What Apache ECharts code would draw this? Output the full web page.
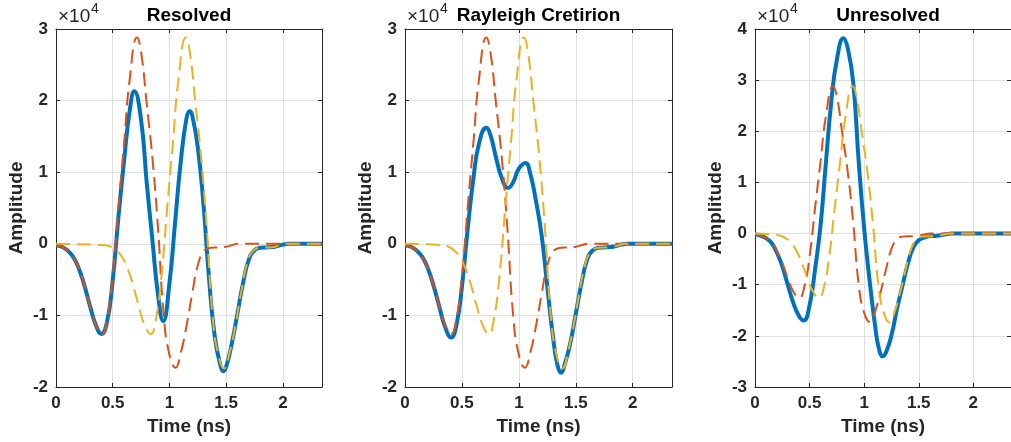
<!DOCTYPE html>
<html>
<head>
<meta charset="utf-8">
<script src="https://cdn.jsdelivr.net/npm/echarts@6/dist/echarts.min.js"></script>
<style>
html,body{margin:0;padding:0;background:#fff;}
#c{width:1011px;height:442px;}
</style>
</head>
<body>
<div id="c"></div>
<script>
// ---- data: [time (ns), amplitude in units of 1e4] ----

// first (early) wavelet, identical in all three panels
const pulseEarly = [[0,-0.02],[0.05,-0.04],[0.1,-0.09],[0.15,-0.18],[0.2,-0.34],[0.25,-0.58],[0.3,-0.87],[0.35,-1.13],[0.406,-1.26],[0.45,-1.06],[0.5,-0.45],[0.55,0.50],[0.6,1.40],[0.65,2.30],[0.715,2.88],[0.75,2.68],[0.8,1.95],[0.85,1.20],[0.9,0.20],[0.95,-1.00],[1.0,-1.55],[1.053,-1.73],[1.1,-1.52],[1.15,-1.15],[1.2,-0.70],[1.25,-0.30],[1.3,-0.11],[1.35,-0.06],[1.4,-0.05],[1.45,-0.05],[1.5,-0.04],[1.55,-0.02],[1.6,0],[2.35,0]];

// second (delayed) wavelet in each panel
const pulseLateResolved = [[0,0],[0.43,-0.02],[0.48,-0.04],[0.53,-0.09],[0.58,-0.18],[0.63,-0.34],[0.68,-0.58],[0.73,-0.87],[0.78,-1.13],[0.836,-1.26],[0.88,-1.06],[0.93,-0.45],[0.98,0.50],[1.03,1.40],[1.08,2.30],[1.145,2.88],[1.18,2.68],[1.23,1.95],[1.28,1.20],[1.33,0.20],[1.38,-1.00],[1.43,-1.55],[1.483,-1.74],[1.53,-1.52],[1.58,-1.15],[1.63,-0.70],[1.68,-0.30],[1.73,-0.11],[1.78,-0.06],[1.83,-0.05],[1.88,-0.05],[1.93,-0.04],[1.98,-0.02],[2.03,0],[2.35,0]];
const pulseLateRayleigh = [[0,0],[0.33,-0.02],[0.38,-0.04],[0.43,-0.09],[0.48,-0.18],[0.53,-0.34],[0.58,-0.58],[0.63,-0.87],[0.68,-1.13],[0.736,-1.26],[0.78,-1.06],[0.83,-0.45],[0.88,0.50],[0.93,1.40],[0.98,2.30],[1.045,2.88],[1.08,2.68],[1.13,1.95],[1.18,1.20],[1.23,0.20],[1.28,-1.00],[1.33,-1.55],[1.383,-1.74],[1.43,-1.52],[1.48,-1.15],[1.53,-0.70],[1.58,-0.30],[1.63,-0.11],[1.68,-0.06],[1.73,-0.05],[1.78,-0.05],[1.83,-0.04],[1.88,-0.02],[1.93,0],[2.35,0]];
const pulseLateUnresolved = [[0,0],[0.18,-0.02],[0.23,-0.04],[0.28,-0.09],[0.33,-0.18],[0.38,-0.34],[0.43,-0.58],[0.48,-0.87],[0.53,-1.13],[0.586,-1.26],[0.63,-1.06],[0.68,-0.45],[0.73,0.50],[0.78,1.40],[0.83,2.30],[0.895,2.88],[0.93,2.68],[0.98,1.95],[1.03,1.20],[1.08,0.20],[1.13,-1.00],[1.18,-1.55],[1.233,-1.74],[1.28,-1.52],[1.33,-1.15],[1.38,-0.70],[1.43,-0.30],[1.48,-0.11],[1.53,-0.06],[1.58,-0.05],[1.63,-0.05],[1.68,-0.04],[1.73,-0.02],[1.78,0],[2.35,0]];

// summed trace in each panel
const sumResolved = [[0,-0.02],[0.05,-0.04],[0.1,-0.09],[0.15,-0.18],[0.2,-0.34],[0.25,-0.58],[0.3,-0.87],[0.35,-1.13],[0.4,-1.26],[0.45,-1.09],[0.5,-0.51],[0.55,0.37],[0.6,1.16],[0.65,1.86],[0.69,2.13],[0.75,1.73],[0.8,0.85],[0.85,0.05],[0.9,-0.72],[0.945,-1.08],[1.0,-0.55],[1.05,0.30],[1.1,1.15],[1.15,1.75],[1.178,1.85],[1.2,1.80],[1.25,1.35],[1.3,0.55],[1.35,-0.50],[1.4,-1.30],[1.45,-1.70],[1.475,-1.78],[1.5,-1.72],[1.55,-1.39],[1.6,-0.97],[1.65,-0.54],[1.7,-0.22],[1.75,-0.09],[1.8,-0.056],[1.85,-0.05],[1.9,-0.046],[1.95,-0.032],[2.0,-0.012],[2.05,0],[2.35,0]];
const sumRayleigh = [[0,-0.02],[0.05,-0.04],[0.1,-0.09],[0.15,-0.18],[0.2,-0.34],[0.25,-0.58],[0.3,-0.87],[0.35,-1.15],[0.405,-1.31],[0.45,-1.15],[0.5,-0.60],[0.55,0.20],[0.6,0.90],[0.65,1.40],[0.714,1.62],[0.75,1.52],[0.8,1.20],[0.85,0.92],[0.905,0.78],[0.95,0.86],[1.0,1.05],[1.058,1.13],[1.1,0.98],[1.15,0.60],[1.2,0.12],[1.25,-0.60],[1.3,-1.30],[1.34,-1.70],[1.372,-1.80],[1.4,-1.70],[1.45,-1.40],[1.5,-0.98],[1.55,-0.55],[1.6,-0.22],[1.65,-0.09],[1.7,-0.056],[1.75,-0.05],[1.8,-0.046],[1.85,-0.032],[1.9,-0.012],[1.95,0],[2.35,0]];
const sumUnresolved = [[0,-0.02],[0.05,-0.04],[0.1,-0.09],[0.15,-0.18],[0.2,-0.37],[0.25,-0.64],[0.3,-1.00],[0.35,-1.35],[0.4,-1.60],[0.445,-1.70],[0.5,-1.40],[0.55,-0.70],[0.6,0.15],[0.65,1.40],[0.7,2.60],[0.75,3.40],[0.81,3.82],[0.85,3.62],[0.9,2.95],[0.95,1.40],[1.0,0.10],[1.05,-0.92],[1.1,-1.80],[1.135,-2.25],[1.17,-2.40],[1.2,-2.32],[1.25,-1.99],[1.3,-1.48],[1.35,-1.03],[1.4,-0.59],[1.45,-0.27],[1.5,-0.13],[1.55,-0.08],[1.6,-0.05],[1.65,-0.046],[1.7,-0.032],[1.75,-0.012],[1.8,0],[2.35,0]];

const panelTitles = ['Resolved', 'Rayleigh Cretirion', 'Unresolved'];
const yRanges = [[-2, 3], [-2, 3], [-3, 4]];
const xRange = [0, 2.345];
const xTickStep = 0.5;
const yTickStep = 1;
const xAxisName = 'Time (ns)';
const yAxisName = 'Amplitude';
const exponentText = '\u00d710';
const exponentPower = '4';

// ---- layout / style ----
const FONT = '"Liberation Sans", Arial, Helvetica, sans-serif';
const AX = '#262626';
const GRIDC = '#dfdfdf';
const panels = [
  {left: 56, top: 29, width: 266, height: 358},
  {left: 405, top: 29, width: 267, height: 358},
  {left: 755, top: 29, width: 266, height: 358}
];
const sums = [sumResolved, sumRayleigh, sumUnresolved];
const lates = [pulseLateResolved, pulseLateRayleigh, pulseLateUnresolved];

const grid = panels.map(p => ({left: p.left, top: p.top, width: p.width, height: p.height, containLabel: false}));
const xAxis = [];
const yAxis = [];
panels.forEach((p, i) => {
  xAxis.push({
    type: 'value', gridIndex: i, min: xRange[0], max: xRange[1], interval: xTickStep,
    name: xAxisName, nameLocation: 'middle', nameGap: 30,
    nameTextStyle: {fontFamily: FONT, fontWeight: 'bold', fontSize: 19, color: AX},
    axisLine: {show: true, onZero: false, lineStyle: {color: AX, width: 1}},
    axisTick: {show: true, inside: true, length: 4, lineStyle: {color: AX}},
    axisLabel: {show: true, margin: 8, fontFamily: FONT, fontWeight: 'bold', fontSize: 17, color: AX, showMaxLabel: false,
      formatter: v => (Math.abs(v / xTickStep - Math.round(v / xTickStep)) < 1e-6 ? String(Math.round(v * 10) / 10) : '')},
    splitLine: {show: true, lineStyle: {color: GRIDC, width: 1}}
  });
  yAxis.push({
    type: 'value', gridIndex: i, min: yRanges[i][0], max: yRanges[i][1], interval: yTickStep,
    name: yAxisName, nameLocation: 'middle', nameGap: 30, nameRotate: 90,
    nameTextStyle: {fontFamily: FONT, fontWeight: 'bold', fontSize: 19, color: AX},
    axisLine: {show: true, onZero: false, lineStyle: {color: AX, width: 1}},
    axisTick: {show: true, inside: true, length: 4, lineStyle: {color: AX}},
    axisLabel: {show: true, margin: 8, fontFamily: FONT, fontWeight: 'bold', fontSize: 17, color: AX},
    splitLine: {show: true, lineStyle: {color: GRIDC, width: 1}}
  });
});
panels.forEach((p, i) => {
  xAxis.push({
    type: 'value', gridIndex: i, position: 'top', min: xRange[0], max: xRange[1], interval: xTickStep,
    axisLine: {show: true, onZero: false, lineStyle: {color: AX, width: 1}},
    axisTick: {show: true, inside: true, length: 4, lineStyle: {color: AX}},
    axisLabel: {show: false}, splitLine: {show: false}
  });
  yAxis.push({
    type: 'value', gridIndex: i, position: 'right', min: yRanges[i][0], max: yRanges[i][1], interval: yTickStep,
    axisLine: {show: true, onZero: false, lineStyle: {color: AX, width: 1}},
    axisTick: {show: true, inside: true, length: 4, lineStyle: {color: AX}},
    axisLabel: {show: false}, splitLine: {show: false}
  });
});

const series = [];
panels.forEach((p, i) => {
  series.push({
    type: 'line', xAxisIndex: i, yAxisIndex: i, showSymbol: false, smooth: 0.5, clip: true, z: 2,
    data: sums[i],
    lineStyle: {color: '#0072BD', width: 4}
  });
  series.push({
    type: 'line', xAxisIndex: i, yAxisIndex: i, showSymbol: false, smooth: 0.5, clip: true, z: 3,
    data: pulseEarly,
    lineStyle: {color: '#D95319', width: 2, type: [14, 7]}
  });
  series.push({
    type: 'line', xAxisIndex: i, yAxisIndex: i, showSymbol: false, smooth: 0.5, clip: true, z: 4,
    data: lates[i],
    lineStyle: {color: '#EDB120', width: 2, type: [14, 7]}
  });
});

const graphic = [];
panels.forEach((p, i) => {
  graphic.push({type: 'text', x: p.left + p.width / 2, y: 15.5, silent: true,
    style: {text: panelTitles[i], fontFamily: FONT, fontWeight: 'bold', fontSize: 19, fill: '#000', align: 'center', verticalAlign: 'middle'}});
  graphic.push({type: 'text', x: p.left + 2, y: 17, silent: true,
    style: {text: exponentText, fontFamily: FONT, fontSize: 19, fill: AX, align: 'left', verticalAlign: 'middle'}});
  graphic.push({type: 'text', x: p.left + 35, y: 9, silent: true,
    style: {text: exponentPower, fontFamily: FONT, fontSize: 14, fill: AX, align: 'left', verticalAlign: 'middle'}});
});

const chart = echarts.init(document.getElementById('c'), null, {renderer: 'canvas'});
chart.setOption({
  animation: false,
  backgroundColor: '#ffffff',
  grid, xAxis, yAxis, series, graphic
});
</script>
</body>
</html>
